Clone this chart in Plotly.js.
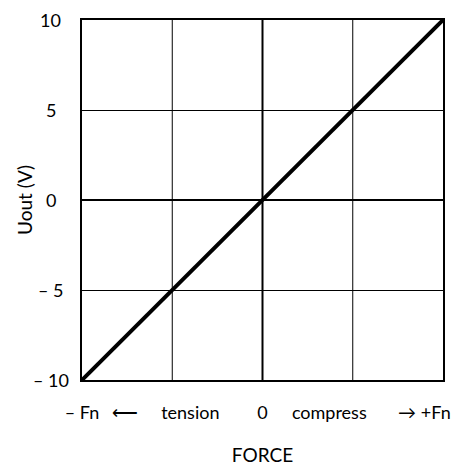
<!DOCTYPE html>
<html>
<head>
<meta charset="utf-8">
<script src="https://cdn.plot.ly/plotly-3.0.1.min.js"></script>
<style>html,body{margin:0;padding:0;background:#fff;}#chart{width:464px;height:466px;}</style>
</head>
<body>
<div id="chart"></div>
<script>
// Data
const forceValues = [-10, 10];
const uoutValues = [-10, 10];
const xLabelPositions = [-10, -7.6, -4.0, 0, 3.7, 8.0, 9.6];
const xLabelTexts = ["\u2013 Fn", "\u27F5", "tension", "0", "compress", "\u2192", "+Fn"];
const yTickValues = [-10, -5, 0, 5, 10];
const yTickTexts = ["\u2013 10", "\u2013 5", "0", "5", "10"];

const FONT = "Lato, 'Open Sans', sans-serif";

const annotations = yTickValues.map((v, i) => ({
  x: -0.086, xref: 'paper', y: v, yref: 'y',
  text: yTickTexts[i], showarrow: false,
  xanchor: 'center', yanchor: 'middle',
  font: {family: FONT, size: 18, color: '#000'}
}));

const trace = {
  x: forceValues, y: uoutValues, type: 'scatter', mode: 'lines',
  line: {color: '#000', width: 4}, hoverinfo: 'skip'
};

const layout = {
  width: 464, height: 466,
  margin: {l: 82, r: 21, t: 20, b: 86},
  paper_bgcolor: '#fff', plot_bgcolor: '#fff',
  showlegend: false,
  font: {family: FONT, size: 18, color: '#000'},
  xaxis: {
    range: [-10, 10], tickmode: 'array',
    tickvals: xLabelPositions, ticktext: xLabelTexts,
    ticks: '', showgrid: false, zeroline: false,
    showline: true, linecolor: '#000', linewidth: 2, mirror: true,
    ticklabelstandoff: 15,
    tickfont: {family: FONT, size: 18, color: '#000'},
    title: {text: 'FORCE', font: {family: FONT, size: 19, color: '#000'}, standoff: 27},
    fixedrange: true
  },
  yaxis: {
    range: [-10, 10], tickmode: 'array', tickvals: yTickValues,
    showticklabels: false, ticks: '',
    showgrid: true, gridcolor: '#000', gridwidth: 1,
    zeroline: true, zerolinecolor: '#000', zerolinewidth: 2,
    showline: true, linecolor: '#000', linewidth: 2, mirror: true,
    title: {text: 'Uout (V)', font: {family: FONT, size: 19, color: '#000'}, standoff: 42},
    fixedrange: true
  },
  shapes: [-5, 0, 5].map(v => ({
    type: 'line', xref: 'x', yref: 'paper', x0: v, x1: v, y0: 0, y1: 1,
    line: {color: '#000', width: v === 0 ? 2 : 1}, layer: 'below'
  })),
  annotations: annotations
};

Plotly.newPlot('chart', [trace], layout, {displayModeBar: false, staticPlot: true});
</script>
</body>
</html>
